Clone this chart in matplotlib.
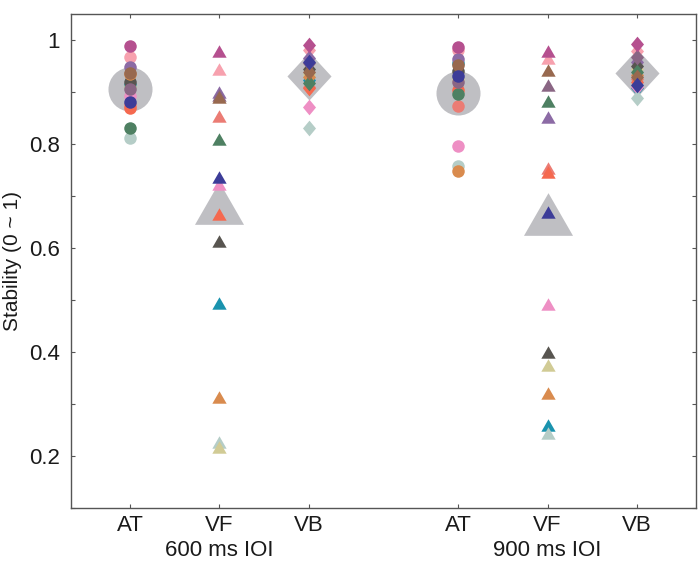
import matplotlib
matplotlib.use("Agg")
import matplotlib.pyplot as plt
from matplotlib.path import Path
import numpy as np

plt.rcParams['font.family'] = ['Liberation Sans', 'DejaVu Sans']

# ---- data -------------------------------------------------------------
conditions = ["AT", "VF", "VB", "AT", "VF", "VB"]
groups = ["600 ms IOI", "900 ms IOI"]
positions = [1, 2, 3, 4.67, 5.67, 6.67]

subject_colors = ["#B5508F", "#F7A1AE", "#8C6BA5", "#98694F", "#1A93AE",
                  "#8A6684", "#3C3C98", "#EB7C74", "#F5694F", "#4E8062",
                  "#B5CDC7", "#D98B4E", "#585550", "#D1CB95", "#EE8FC4"]

at_600 = [0.988, 0.967, 0.949, 0.937, 0.913, 0.905, 0.881, 0.875, 0.870,
          0.831, 0.811, 0.935, 0.920, 0.910, 0.893]
vf_600 = [0.979, 0.945, 0.900, 0.891, 0.494, 0.895, 0.737, 0.854, 0.665,
          0.810, 0.227, 0.314, 0.613, 0.218, 0.723]
vb_600 = [0.990, 0.980, 0.965, 0.939, 0.923, 0.955, 0.958, 0.910, 0.907,
          0.918, 0.830, 0.929, 0.945, 0.935, 0.872]
at_900 = [0.986, 0.981, 0.963, 0.952, 0.955, 0.920, 0.931, 0.873, 0.904,
          0.896, 0.757, 0.748, 0.940, 0.925, 0.796]
vf_900 = [0.979, 0.965, 0.852, 0.942, 0.260, 0.913, 0.669, 0.754, 0.747,
          0.883, 0.244, 0.321, 0.400, 0.375, 0.492]
vb_900 = [0.992, 0.978, 0.958, 0.929, 0.907, 0.968, 0.913, 0.925, 0.920,
          0.939, 0.888, 0.932, 0.950, 0.945, 0.910]

group_means = [0.906, 0.686, 0.930, 0.899, 0.665, 0.936]

# ---- markers ----------------------------------------------------------
tri = Path([(-1, -0.87), (1, -0.87), (0, 0.87), (-1, -0.87)],
           [Path.MOVETO, Path.LINETO, Path.LINETO, Path.CLOSEPOLY])
dia_small = Path([(0, 1), (0.83, 0), (0, -1), (-0.83, 0), (0, 1)],
                 [Path.MOVETO, Path.LINETO, Path.LINETO, Path.LINETO, Path.CLOSEPOLY])
dia_big = Path([(0, 1), (0.92, 0), (0, -1), (-0.92, 0), (0, 1)],
               [Path.MOVETO, Path.LINETO, Path.LINETO, Path.LINETO, Path.CLOSEPOLY])

small_marker = {"AT": ("o", 9.0), "VF": (tri, 10.3), "VB": (dia_small, 11.3)}
big_marker = {"AT": ("o", 31.7), "VF": (tri, 35.3), "VB": (dia_big, 34.5)}

all_data = [at_600, vf_600, vb_600, at_900, vf_900, vb_900]
draw_order = [1, 4, 2, 7, 8, 14, 10, 13, 12, 11, 9, 5, 3, 6, 0]

fig = plt.figure(figsize=(7.0, 5.61), dpi=100)
ax = fig.add_axes([0.1014, 0.0945, 0.8929, 0.8805])

gray = "#BFBFC3"
for pos, cond, m in zip(positions, conditions, group_means):
    mk, ms = big_marker[cond]
    ax.plot([pos], [m], linestyle="none", marker=mk, markersize=ms,
            color=gray, markeredgewidth=0, zorder=2)

for pos, cond, vals in zip(positions, conditions, all_data):
    mk, ms = small_marker[cond]
    for i in draw_order:
        ax.plot([pos], [vals[i]], linestyle="none", marker=mk, markersize=ms,
                color=subject_colors[i], markeredgewidth=0, zorder=3)

ax.set_xlim(0.34, 7.33)
ax.set_ylim(0.1, 1.05)
ax.set_xticks(positions)
ax.set_xticklabels(conditions)
ax.set_yticks([0.2, 0.4, 0.6, 0.8, 1.0])
ax.set_yticklabels(["0.2", "0.4", "0.6", "0.8", "1"])
ax.set_yticks(np.arange(0.1, 1.05, 0.1), minor=True)
ax.tick_params(axis="both", which="both", direction="in", top=True, right=True,
               length=3, width=0.8, color="#555555", labelsize=16,
               labelcolor="#1a1a1a")
ax.tick_params(axis="x", pad=5)
ax.tick_params(axis="y", pad=8)
for s in ax.spines.values():
    s.set_color("#555555")
    s.set_linewidth(1.0)

ax.set_ylabel("Stability (0 ~ 1)", fontsize=15, color="#1a1a1a", labelpad=5)

trans = ax.get_xaxis_transform()
for gx, g in zip([2, 5.67], groups):
    ax.text(gx, -0.064, g, transform=trans, ha="center", va="top",
            fontsize=16, color="#1a1a1a")

fig.savefig("out.png", dpi=100)
